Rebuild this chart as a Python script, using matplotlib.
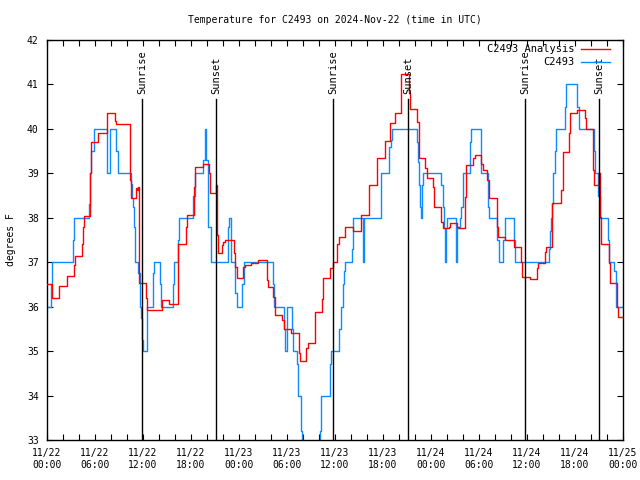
import matplotlib
matplotlib.use("Agg")
import matplotlib.pyplot as plt

# hours since 2024-11-22 00:00 UTC, temperature (F) -- step data
obs_hours = [0, 0.5, 0.65, 3.2, 3.4, 5.2, 5.35, 5.55, 5.9, 7.55, 7.9, 8.6, 8.9,
             10.55, 10.65, 10.75, 10.85, 10.95, 11.05, 11.4, 11.6, 11.75, 11.85, 11.95,
             12.45, 12.55, 13.2, 13.35, 14.1, 14.3, 15.7, 15.9, 16.4, 16.55, 18.2, 18.45,
             19.5, 19.75, 19.85, 20.1, 20.5, 22.65, 22.8, 23.0, 23.55, 23.8, 24.4, 24.65,
             28.2, 28.35, 29.65, 29.75, 29.95, 30.6, 30.75, 31.2, 31.35, 31.7, 31.8, 31.9,
             34.15, 34.25, 35.4, 35.55, 36.55, 36.7, 37.0, 37.1, 37.25, 38.1, 38.25,
             39.45, 39.6, 41.7, 41.8, 42.8, 43.0, 43.1, 46.3, 46.4, 46.5, 46.65, 46.75,
             46.9, 47.0, 49.3, 49.45, 49.6, 49.7, 49.85, 50.0, 51.15, 51.3, 51.65, 51.8,
             51.95, 52.85, 53.0, 54.3, 55.1, 55.2, 56.3, 56.45, 57.05, 57.25, 58.35, 58.55,
             62.75, 62.85, 62.95, 63.1, 63.3, 63.45, 63.6, 64.75, 64.9, 66.3, 66.5, 68.4,
             68.55, 68.9, 69.1, 70.1, 70.25, 70.85, 71.15, 72]
obs_temps = [36, 36.5, 37, 37.5, 38, 38.3, 39, 39.5, 40, 39, 40, 39.5, 39,
             38.75, 38.45, 38.25, 37.8, 37.5, 37, 36.75, 36, 35.75, 35.25, 35,
             35.75, 36, 36.75, 37, 36.5, 36, 36.5, 37, 37.5, 38, 38.5, 39,
             39.3, 40, 39.3, 37.8, 37, 37.8, 38, 37, 36.3, 36, 36.5, 37,
             36.5, 36, 35.5, 35, 36, 35.5, 35, 34.7, 34, 33.75, 33.2, 32.5,
             33.2, 34, 34.7, 35, 35.5, 36, 36.5, 36.8, 37, 37.3, 38,
             37, 38, 38.75, 39, 39.6, 39.75, 40, 39.7, 39.26, 38.74, 38.25, 38,
             38.74, 39, 38.74, 38.25, 37.76, 37, 37.76, 38, 37, 37.76, 38, 38.25,
             39, 39.7, 40, 39, 38.25, 38, 37.5, 37, 37.5, 38, 37.5, 37,
             37.3, 37.7, 38, 38.3, 39, 39.5, 40, 40.5, 41, 40.5, 40, 39.5,
             39, 38.5, 38, 37.5, 37, 36.8, 36, 36]

ana_hours = [0, 0.6, 1.45, 1.55, 2.5, 3.4, 3.55, 4.4, 4.5, 4.6, 5.4, 5.55, 6.4, 7.45,
             8.45, 8.6, 10.4, 10.55, 11.15, 11.25, 11.35, 11.45, 11.55, 12.4, 12.5, 14.4,
             15.3, 16.35, 17.4, 17.55, 18.4, 18.55, 19.5, 20.2, 20.35, 21.1, 21.2, 21.3,
             21.4, 21.9, 22.05, 22.3, 23.4, 23.5, 23.7, 24.5, 24.8, 25.5, 26.4, 27.45,
             27.65, 28.3, 28.45, 29.35, 29.6, 30.5, 31.45, 31.6, 32.4, 32.6, 33.45, 34.4,
             34.55, 35.4, 35.75, 36.3, 36.55, 37.3, 38.3, 39.3, 40.3, 41.3, 42.3, 42.9,
             43.5, 44.25, 45.2, 45.35, 46.3, 46.45, 47.3, 47.5, 48.25, 48.4, 49.3, 49.45,
             50.2, 50.35, 51.25, 51.45, 52.2, 52.35, 53.25, 53.45, 54.25, 54.45, 55.0,
             55.3, 56.3, 56.4, 57.2, 58.4, 59.3, 59.4, 60.4, 61.2, 61.4, 62.25, 62.4,
             63.1, 64.3, 64.45, 65.3, 65.4, 66.3, 67.25, 67.4, 68.3, 68.4, 69.0, 69.15,
             69.3, 70.2, 70.35, 71.2, 71.4, 72]
ana_temps = [36.5, 36.2, 36.37, 36.46, 36.7, 36.94, 37.14, 37.4, 37.8, 38.05, 39.0, 39.7,
             39.9, 40.35, 40.18, 40.1, 38.85, 38.44, 38.66, 38.63, 38.7, 38.4, 36.53, 36.2,
             35.92, 36.14, 36.05, 37.4, 37.8, 38.06, 38.7, 39.15, 39.22, 39.0, 38.55,
             38.74, 38.44, 37.61, 37.2, 37.39, 37.46, 37.5, 37.2, 36.9, 36.64, 36.9, 36.94,
             36.98, 37.05, 36.6, 36.45, 36.22, 35.81, 35.7, 35.49, 35.4, 34.95, 34.78,
             35.06, 35.19, 35.87, 36.18, 36.65, 36.86, 37.0, 37.42, 37.57, 37.8, 37.7,
             38.06, 38.74, 39.34, 39.73, 40.13, 40.35, 41.23, 40.8, 40.44, 40.16, 39.34,
             39.11, 38.89, 38.7, 38.25, 37.91, 37.76, 37.8, 37.89, 37.8, 37.76, 38.47,
             39.19, 39.34, 39.41, 39.2, 39.07, 38.85, 38.44, 37.8, 37.57, 37.5, 37.35,
             37.0, 36.67, 36.62, 36.86, 36.98, 37.24, 37.35, 38.33, 38.63, 39.49, 39.9,
             40.35, 40.43, 40.24, 39.99, 39.07, 38.74, 39.0, 38.02, 37.42, 36.98, 36.53,
             36.0, 35.77, 35.77]

sun_hours = [11.91, 21.125, 35.79, 45.16, 59.79, 69.04]
sun_labels = ["Sunrise", "Sunset", "Sunrise", "Sunset", "Sunrise", "Sunset"]

tick_hours = [0, 6, 12, 18, 24, 30, 36, 42, 48, 54, 60, 66, 72]
tick_labels = ["11/22\n00:00", "11/22\n06:00", "11/22\n12:00", "11/22\n18:00",
               "11/23\n00:00", "11/23\n06:00", "11/23\n12:00", "11/23\n18:00",
               "11/24\n00:00", "11/24\n06:00", "11/24\n12:00", "11/24\n18:00",
               "11/25\n00:00"]
y_ticks = [33, 34, 35, 36, 37, 38, 39, 40, 41, 42]

RED = "#ff0000"
BLUE = "#0a8cff"
FONT = "DejaVu Sans Mono"

fig = plt.figure(figsize=(6.4, 4.8), dpi=100)
ax = fig.add_axes([47 / 640, 40 / 480, 576 / 640, 400 / 480])

ax.plot(ana_hours, ana_temps, drawstyle="steps-post", color=RED, lw=1.0, zorder=3)
ax.plot(obs_hours, obs_temps, drawstyle="steps-post", color=BLUE, lw=1.0, zorder=2)

ax.set_xlim(0, 72)
ax.set_ylim(33, 42)

line_top = (440 - 99) / 400
for h, lab in zip(sun_hours, sun_labels):
    ax.axvline(h, ymin=0, ymax=line_top, color="black", lw=1.0, zorder=4)
    ax.text(h, 0.865, lab, transform=ax.get_xaxis_transform(), rotation=90,
            ha="center", va="bottom", fontsize=7.5, family=FONT, zorder=5)

ax.set_xticks(tick_hours)
ax.set_xticklabels(tick_labels, family=FONT, fontsize=7)
ax.set_xticks(range(0, 73, 2), minor=True)
ax.set_yticks(y_ticks)
ax.set_yticklabels([str(v) for v in y_ticks], family=FONT, fontsize=7)
ax.tick_params(which="both", direction="in", top=True, right=True, length=4,
               width=0.8, pad=6)
ax.tick_params(axis="x", which="minor", length=4)
for s in ax.spines.values():
    s.set_linewidth(1.0)

# legend (manual, gnuplot style)
ax.text(0.915, 0.977, "C2493 Analysis", transform=ax.transAxes, ha="right",
        va="center", fontsize=7.5, family=FONT, zorder=6)
ax.plot([0.927, 0.977], [0.977, 0.977], transform=ax.transAxes, color=RED, lw=1.0, zorder=6)
ax.text(0.915, 0.944, "C2493", transform=ax.transAxes, ha="right",
        va="center", fontsize=7.5, family=FONT, zorder=6)
ax.plot([0.927, 0.977], [0.944, 0.944], transform=ax.transAxes, color=BLUE, lw=1.0, zorder=6)

fig.text(335 / 640, 1 - 20 / 480, "Temperature for C2493 on 2024-Nov-22 (time in UTC)",
         ha="center", va="center", fontsize=7, family=FONT)
fig.text(11 / 640, 0.5, "degrees F", rotation=90, ha="center", va="center",
         fontsize=7, family=FONT)

fig.savefig("out.png", dpi=100)
